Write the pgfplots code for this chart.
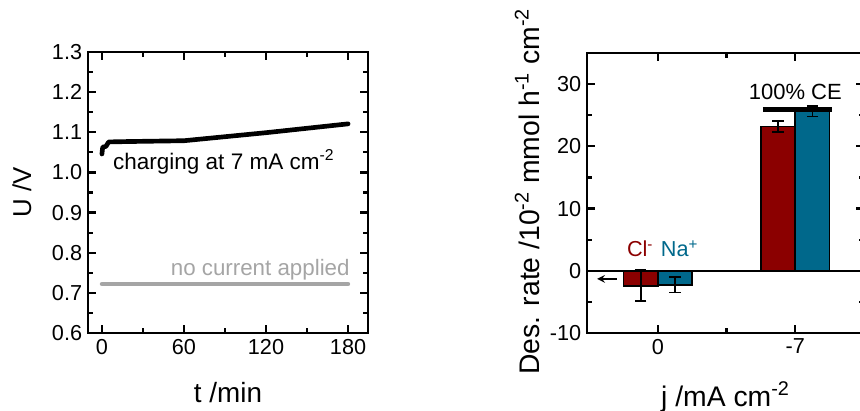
\documentclass[border=0pt]{standalone}
\usepackage{fontspec}
\setmainfont{Liberation Sans}
\usepackage{pgfplots}
\pgfplotsset{compat=1.18}
\definecolor{clred}{RGB}{139,0,0}
\definecolor{nateal}{RGB}{0,104,139}
\definecolor{offgray}{RGB}{165,165,165}

\pgfplotsset{
  every axis/.append style={
    scale only axis,
    axis line style={line width=1.5pt},
    major tick length=5pt,
    minor tick length=2.8pt,
    tick style={black, line width=1.3pt},
    /pgf/number format/assume math mode=true,
    tick label style={font=\fontsize{13}{15}\selectfont},
  },
}

\begin{document}
\begin{tikzpicture}
\useasboundingbox (0,0) rectangle (516pt,246pt);
\clip (0,0) rectangle (516pt,246pt);

% left: cell voltage
\begin{axis}[
  at={(52.8pt,46.2pt)}, anchor=south west,
  width=168pt, height=168.6pt,
  xmin=-10.2, xmax=194.6, ymin=0.6, ymax=1.3,
  xtick={0,60,120,180}, minor xtick={30,90,150},
  ytick={0.6,0.7,0.8,0.9,1.0,1.1,1.2,1.3},
  minor ytick={0.65,0.75,0.85,0.95,1.05,1.15,1.25},
  yticklabel style={/pgf/number format/.cd, fixed, fixed zerofill, precision=1},
  xlabel={t /min}, ylabel={U /V},
  xlabel style={font=\fontsize{16.7}{19}\selectfont, at={(axis description cs:0.5,-0.2135)}, anchor=center},
  ylabel style={font=\fontsize{15.5}{18}\selectfont, at={(axis description cs:-0.236,0.5)}, anchor=center},
]
\addplot[black, line width=2.8pt, line cap=round, line join=round] coordinates {
  (0,1.046) (0.3,1.056) (0.6,1.063) (3,1.065) (4,1.071) (5,1.076)
  (20,1.077) (40,1.078) (60,1.079) (90,1.089) (120,1.099) (150,1.110) (180,1.121)
};
\addplot[offgray, line width=2.6pt, line cap=round] coordinates {
  (0,0.722) (60,0.722) (120,0.722) (180,0.722)
};
\node[anchor=west, font=\fontsize{13.5}{15}\selectfont, inner sep=0pt]
  at (axis cs:8,1.026) {charging at 7 mA cm\textsuperscript{-2}};
\node[anchor=east, text=offgray, font=\fontsize{13.4}{15}\selectfont, inner sep=0pt]
  at (axis cs:181.4,0.758) {no current applied};
\end{axis}

% right: desalination rate
\begin{axis}[
  at={(352.2pt,46.2pt)}, anchor=south west,
  width=166.2pt, height=168pt,
  xmin=-0.515, xmax=1.5, ymin=-10, ymax=35,
  xtick={0,1}, xticklabels={0,-7}, minor xtick={0.5},
  ytick={-10,0,10,20,30}, minor ytick={-5,5,15,25},
  label style={font=\fontsize{17}{20}\selectfont},
  xlabel={j /mA cm\textsuperscript{-2}},
  ylabel={Des. rate /10\textsuperscript{-2} mmol h\textsuperscript{-1} cm\textsuperscript{-2}},
  xlabel style={at={(axis description cs:0.5,-0.229)}, anchor=center},
  ylabel style={at={(axis description cs:-0.2166,0.505)}, anchor=center},
]
\addplot[black, line width=1.1pt] coordinates {(-0.515,0) (1.5,0)};
\addplot[ybar, bar width=0.25, bar shift=0, fill=clred, draw=black, line width=1pt,
  error bars/.cd, y dir=both, y explicit,
  error bar style={line width=1.1pt, black},
  error mark options={rotate=90, mark size=3.4pt, line width=1.1pt, black}]
  coordinates {(-0.125,-2.4) +- (0,2.5) (0.875,23.2) +- (0,0.9)};
\addplot[ybar, bar width=0.25, bar shift=0, fill=nateal, draw=black, line width=1pt,
  error bars/.cd, y dir=both, y explicit,
  error bar style={line width=1.1pt, black},
  error mark options={rotate=90, mark size=3.4pt, line width=1.1pt, black}]
  coordinates {(0.125,-2.25) +- (0,1.25) (1.125,25.65) +- (0,0.85)};
\addplot[black, line width=3pt] coordinates {(0.765,26) (1.267,26)};
\node[font=\fontsize{13.2}{15}\selectfont] at (axis cs:1,28.8) {100\% CE};
\node[anchor=east, text=clred, font=\fontsize{13}{15}\selectfont, inner sep=0pt]
  at (axis cs:-0.03,3.5) {Cl\textsuperscript{-}};
\node[anchor=west, text=nateal, font=\fontsize{13}{15}\selectfont, inner sep=0pt]
  at (axis cs:0.02,3.5) {Na\textsuperscript{+}};
\draw[-stealth, line width=1.1pt] (axis cs:-0.297,-1.3) -- (axis cs:-0.442,-1.3);
\end{axis}
\end{tikzpicture}
\end{document}
